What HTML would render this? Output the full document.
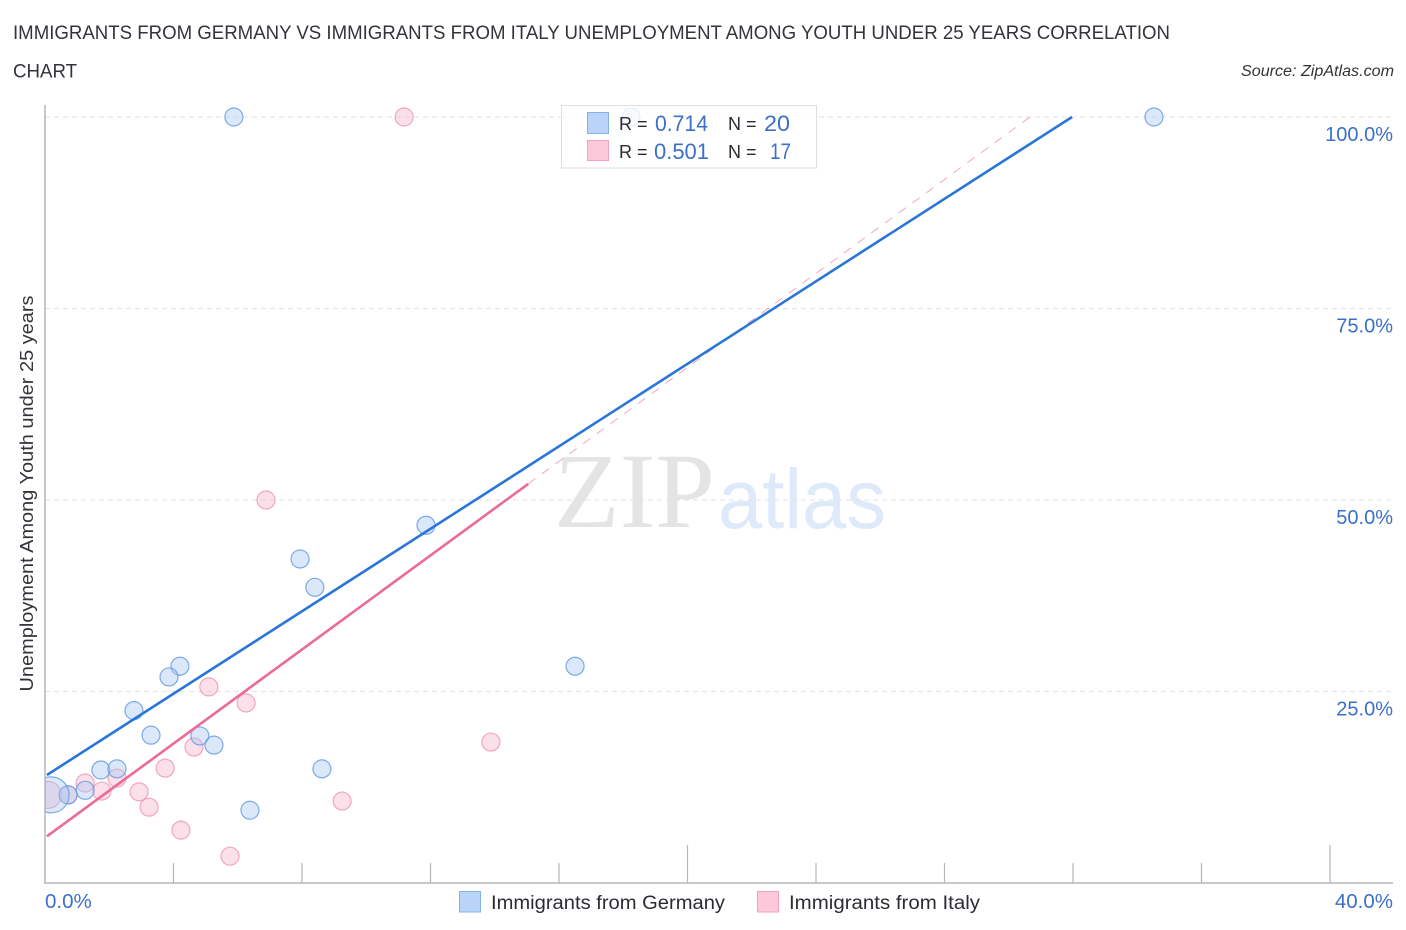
<!DOCTYPE html>
<html lang="en">
<head>
<meta charset="utf-8">
<title>Immigrants from Germany vs Immigrants from Italy Unemployment Correlation Chart</title>
<style>
html,body{margin:0;padding:0;background:#fff;}
svg{display:block;font-family:"Liberation Sans",sans-serif;}
</style>
</head>
<body>
<svg id="chart" width="1406" height="930" viewBox="0 0 1406 930" xmlns="http://www.w3.org/2000/svg">
  <defs>
    <clipPath id="plot-clip"><rect x="45" y="100" width="1350" height="783"/></clipPath>
  </defs>
  <text x="13" y="39" font-size="19.5" fill="#33333b" textLength="1157" lengthAdjust="spacingAndGlyphs">IMMIGRANTS FROM GERMANY VS IMMIGRANTS FROM ITALY UNEMPLOYMENT AMONG YOUTH UNDER 25 YEARS CORRELATION</text>
  <text x="13" y="77.5" font-size="19.5" fill="#33333b" textLength="64" lengthAdjust="spacingAndGlyphs">CHART</text>
  <text x="1394" y="76" font-size="15.5" font-style="italic" fill="#333" text-anchor="end" textLength="153" lengthAdjust="spacingAndGlyphs">Source: ZipAtlas.com</text>

  <g>
    <text x="554" y="527" font-family="'Liberation Serif',serif" font-size="107" fill="#e4e4e4" textLength="161" lengthAdjust="spacingAndGlyphs">ZIP</text>
    <text x="718" y="528" font-size="84" fill="#deeafa" textLength="168" lengthAdjust="spacingAndGlyphs">atlas</text>
  </g>

  <g id="grid"></g>
  <g id="points" clip-path="url(#plot-clip)"></g>
  <g id="lines"></g>
  <g id="axes"></g>

  <text transform="translate(33,493.5) rotate(-90)" font-size="18.5" fill="#33333b" text-anchor="middle" textLength="396" lengthAdjust="spacingAndGlyphs">Unemployment Among Youth under 25 years</text>

  <g>
    <rect x="561.5" y="105.5" width="255" height="62.5" fill="#fff" fill-opacity="0.8" stroke="#dedede" stroke-width="1"/>
    <rect x="587.5" y="112.5" width="21" height="21" fill="#b9d4f7" stroke="#86b2ea" stroke-width="1"/>
    <rect x="587.5" y="140.5" width="21" height="20" fill="#fcc8da" stroke="#f2a2bd" stroke-width="1"/>
    <text x="619" y="130" font-size="18" fill="#2b2b33">R =</text>
    <text x="655" y="131" font-size="22" fill="#3b70c8" textLength="53" lengthAdjust="spacingAndGlyphs">0.714</text>
    <text x="728" y="130" font-size="18" fill="#2b2b33">N =</text>
    <text x="764" y="131" font-size="22" fill="#3b70c8" textLength="26" lengthAdjust="spacingAndGlyphs">20</text>
    <text x="619" y="158" font-size="18" fill="#2b2b33">R =</text>
    <text x="654" y="159" font-size="22" fill="#3b70c8" textLength="55" lengthAdjust="spacingAndGlyphs">0.501</text>
    <text x="728" y="158" font-size="18" fill="#2b2b33">N =</text>
    <text x="770" y="159" font-size="22" fill="#3b70c8" textLength="21" lengthAdjust="spacingAndGlyphs">17</text>
  </g>

  <g>
    <rect x="459.5" y="891.5" width="21" height="20.5" fill="#b9d4f7" stroke="#86b2ea" stroke-width="1"/>
    <text x="491" y="909" font-size="19" fill="#2b2b33" textLength="234" lengthAdjust="spacingAndGlyphs">Immigrants from Germany</text>
    <rect x="757.5" y="891.5" width="21" height="20.5" fill="#fcc8da" stroke="#f2a2bd" stroke-width="1"/>
    <text x="789" y="909" font-size="19" fill="#2b2b33" textLength="191" lengthAdjust="spacingAndGlyphs">Immigrants from Italy</text>
  </g>
</svg>
<script>
// Data
const germanyX = [5.88, 18.24, 34.52, 11.86, 7.94, 8.40, 16.50, 4.20, 3.86, 2.77, 3.30, 4.82, 5.26, 8.62, 1.74, 2.24, 6.38, 1.25, 0.72, 0.19];
const germanyY = [100, 100, 100, 46.7, 42.3, 38.6, 28.3, 28.3, 26.9, 22.5, 19.3, 19.2, 18.0, 14.9, 14.75, 14.9, 9.5, 12.1, 11.5, 11.5];
const germanyWeight = [1, 1, 1, 1, 1, 1, 1, 1, 1, 1, 1, 1, 1, 1, 1, 1, 1, 1, 1, 4];
const italyX = [11.18, 6.88, 5.10, 6.26, 13.88, 4.64, 3.74, 1.25, 2.24, 1.77, 2.93, 3.24, 9.25, 4.23, 5.76, 0.72, 0.09];
const italyY = [100, 50, 25.6, 23.5, 18.4, 17.75, 15.0, 13.05, 13.7, 12.0, 11.9, 9.9, 10.7, 6.9, 3.5, 11.5, 11.5];
const italyWeight = [1, 1, 1, 1, 1, 1, 1, 1, 1, 1, 1, 1, 1, 1, 1, 1, 2.25];
const germanyTrendX = [0.06, 31.97];
const germanyTrendY = [14.1, 100];
const italyTrendX = [0.06, 15.04];
const italyTrendY = [6.1, 52.1];
const italyExtensionX = [15.04, 30.66];
const italyExtensionY = [52.1, 100];
const yTickValues = [25, 50, 75, 100];
const yTickLabels = ['25.0%', '50.0%', '75.0%', '100.0%'];
const xTickValues = [4, 8, 12, 16, 20, 24, 28, 32, 36, 40];
const xMajorTicks = [20, 40];
const xEndValues = [0, 40];
const xEndLabels = ['0.0%', '40.0%'];

const NS = 'http://www.w3.org/2000/svg';
const xScale = v => 45 + v * 32.125;
const yScale = v => 883 - v * 7.66;
const radius = w => 9 * Math.sqrt(w);

function make(parent, tag, attrs, text) {
  const el = document.createElementNS(NS, tag);
  for (const k in attrs) el.setAttribute(k, attrs[k]);
  if (text !== undefined) el.textContent = text;
  parent.appendChild(el);
  return el;
}

const gridG = document.getElementById('grid');
const axesG = document.getElementById('axes');
const pointsG = document.getElementById('points');
const linesG = document.getElementById('lines');

yTickValues.forEach((v, i) => {
  const gl = make(gridG, 'line', {x1: 45, x2: 1393, y1: yScale(v), y2: yScale(v), stroke: '#e2e2e2', 'stroke-width': 1, 'stroke-dasharray': '5 4'});
  
  
  const t = make(axesG, 'text', {x: 1393, y: yScale(v) + 24, 'font-size': 20, fill: '#3b70c8', 'text-anchor': 'end'}, yTickLabels[i]);
  
  
});

const yAxis = make(axesG, 'line', {x1: 45, x2: 45, y1: 105, y2: 883.5, stroke: '#b0b0b0', 'stroke-width': 1.4});


const xAxis = make(axesG, 'line', {x1: 44, x2: 1393, y1: 883, y2: 883, stroke: '#b5b5b5', 'stroke-width': 1.5});



xTickValues.forEach(v => {
  const top = xMajorTicks.includes(v) ? 845 : 863;
  const tk = make(axesG, 'line', {x1: xScale(v), x2: xScale(v), y1: top, y2: 883, stroke: '#b5b5b5', 'stroke-width': 1.2});
  
  
});

xEndValues.forEach((v, i) => {
  const t = make(axesG, 'text', {x: i === 0 ? xScale(v) : 1393, y: 908, 'font-size': 20.5, fill: '#3b70c8', 'text-anchor': i === 0 ? 'start' : 'end'}, xEndLabels[i]);
  
  
});

italyX.forEach((v, i) => {
  const c = make(pointsG, 'circle', {cx: xScale(v), cy: yScale(italyY[i]), r: radius(italyWeight[i]), fill: '#f8b4ca', 'fill-opacity': 0.42, stroke: '#eb8fae', 'stroke-opacity': 0.75, 'stroke-width': 1.2});
  
  
});
germanyX.forEach((v, i) => {
  const c = make(pointsG, 'circle', {cx: xScale(v), cy: yScale(germanyY[i]), r: radius(germanyWeight[i]), fill: '#a9c9f3', 'fill-opacity': 0.42, stroke: '#5f97e2', 'stroke-opacity': 0.8, 'stroke-width': 1.2});
  
  
});

const ext = make(linesG, 'line', {x1: xScale(italyExtensionX[0]), y1: yScale(italyExtensionY[0]), x2: xScale(italyExtensionX[1]), y2: yScale(italyExtensionY[1]), stroke: '#ec6f97', 'stroke-width': 0.8, 'stroke-dasharray': '9 8', 'stroke-opacity': 0.75});


const itTrend = make(linesG, 'line', {x1: xScale(italyTrendX[0]), y1: yScale(italyTrendY[0]), x2: xScale(italyTrendX[1]), y2: yScale(italyTrendY[1]), stroke: '#e96b96', 'stroke-width': 2.6});


const deTrend = make(linesG, 'line', {x1: xScale(germanyTrendX[0]), y1: yScale(germanyTrendY[0]), x2: xScale(germanyTrendX[1]), y2: yScale(germanyTrendY[1]), stroke: '#2a76d8', 'stroke-width': 2.6});


</script>
</body>
</html>
